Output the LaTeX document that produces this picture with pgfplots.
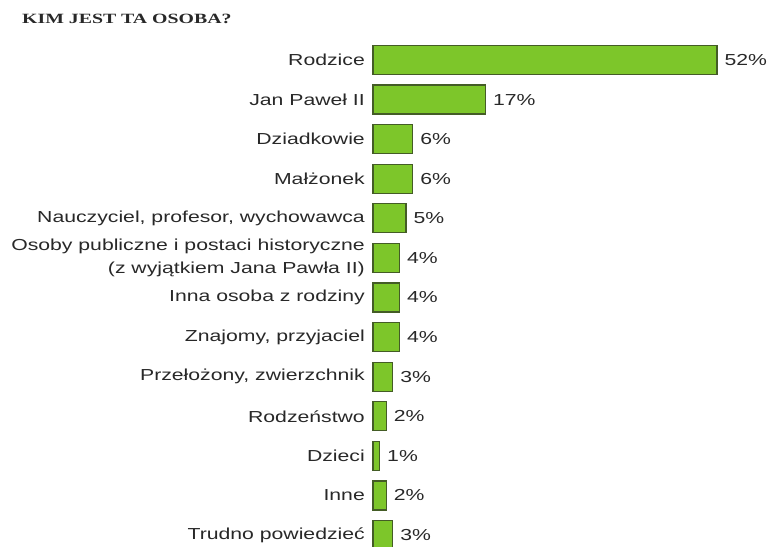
\documentclass[border=0pt]{standalone}
\usepackage{fontspec}
\setmainfont{Liberation Sans}
\newfontfamily\lab[FakeStretch=1.33]{Liberation Sans}
\newfontfamily\ttl[FakeStretch=1.4]{Liberation Serif}
\usepackage{pgfplots}
\pgfplotsset{compat=1.18}
\definecolor{barfill}{RGB}{125,198,42}
\definecolor{barline}{RGB}{68,92,38}
\definecolor{txt}{RGB}{40,40,40}
\begin{document}
\begin{tikzpicture}[x=1bp,y=1bp]
\path[use as bounding box] (0,0) rectangle (767,547);
\node[anchor=west, inner sep=0pt, text=txt] at (22,528.5) {\ttl\bfseries\fontsize{14.2}{16}\selectfont KIM JEST TA OSOBA?};
\begin{axis}[
  at={(373bp,0bp)}, anchor=south west, scale only axis,
  width=394bp, height=509bp,
  xbar, bar width=29bp,
  xmin=0, xmax=59.56, ymin=-0.556, ymax=12.303, y dir=reverse,
  axis line style={draw=none},
  major tick length=0pt,
  xtick=\empty,
  ytick={0,1,2,3,4,5,6,7,8,9,10,11,12},
  yticklabels={Rodzice, Jan Paweł II, Dziadkowie, Małżonek, {Nauczyciel, profesor, wychowawca}, {Osoby publiczne i postaci historyczne\\(z wyjątkiem Jana Pawła II)}, Inna osoba z rodziny, {Znajomy, przyjaciel}, {Przełożony, zwierzchnik}, Rodzeństwo, Dzieci, Inne, Trudno powiedzieć},
  yticklabel style={align=right, inner sep=0pt, xshift=-8bp, text=txt, font=\lab\fontsize{16}{24}\selectfont},
  /pgf/number format/assume math mode=true,
  point meta=x,
  nodes near coords={\pgfmathprintnumber{\pgfplotspointmeta}\%},
  nodes near coords style={anchor=west, inner sep=0pt, xshift=7bp, text=txt, font=\lab\fontsize{16}{18}\selectfont},
  clip=false,
]
\addplot[fill=barfill, draw=barline, line width=1.2bp] coordinates {
(52,0) (17,1) (6,2) (6,3) (5,4) (4,5) (4,6) (4,7) (3,8) (2,9) (1,10) (2,11) (3,12)
};
\end{axis}
\end{tikzpicture}
\end{document}
